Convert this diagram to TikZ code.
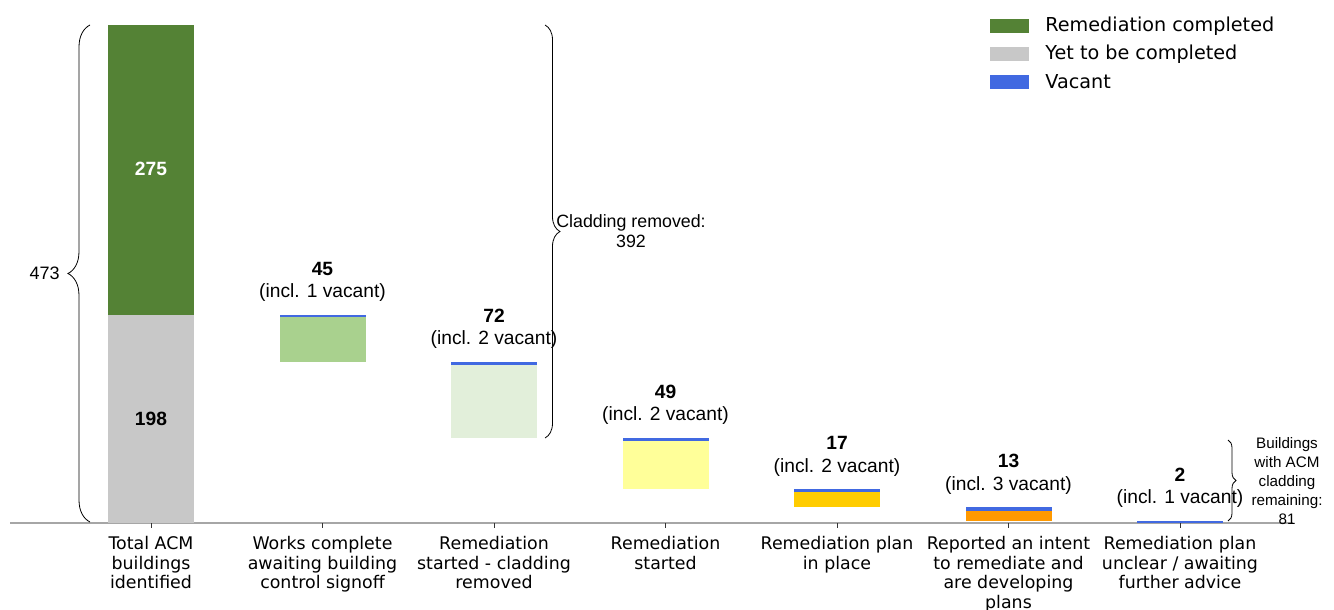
\documentclass[tikz,border=0pt]{standalone}
\usepackage{fontspec}
\setmainfont{Liberation Sans}
\newfontfamily\dejavu{DejaVu Sans}
\usetikzlibrary{decorations.pathreplacing}

\definecolor{accgreen}{HTML}{548235}
\definecolor{accgray}{HTML}{C8C8C8}
\definecolor{accblue}{HTML}{4169E1}
\definecolor{accA}{HTML}{A9D18E}
\definecolor{accB}{HTML}{E2EFDA}
\definecolor{accC}{HTML}{FFFF99}
\definecolor{accD}{HTML}{FFCC00}
\definecolor{accE}{HTML}{FF9900}
\definecolor{axgray}{HTML}{A6A6A6}

\begin{document}
\begin{tikzpicture}[x=0.5pt, y=-0.5pt]
    \tikzstyle{brc}=[thin, decorate]
    \tikzstyle{numlbl}=[font=\fontsize{9.6}{11}\selectfont\bfseries]
    \tikzstyle{inclbl}=[font=\fontsize{9.6}{11}\selectfont]
    \tikzstyle{axlbl}=[font=\dejavu\fontsize{8.7}{9.75}\selectfont, align=center, anchor=north, inner sep=0pt]
    \tikzstyle{leg}=[font=\dejavu\fontsize{9.6}{11}\selectfont, anchor=west, inner sep=0pt]

    \useasboundingbox (0,0) rectangle (1334,610);

    % axis
    \draw[axgray, line width=1pt] (10,523) -- (1293,523);
    \foreach \x/\txt [count=\i] in {151/{Total ACM\\buildings\\identified},
            322.5/{Works complete\\awaiting building\\control signoff},
            494/{Remediation\\started - cladding\\removed},
            665.5/{Remediation\\started},
            837/{Remediation plan\\in place},
            1008.5/{Reported an intent\\to remediate and\\are developing\\plans},
            1180/{Remediation plan\\unclear / awaiting\\further advice}} {
        \draw[black!80, thin] (\x,523) -- (\x,528);
        \node[axlbl] (cat\i) at (\x,536) {\txt};
    }

    % bars, in buildings
    \begin{scope}[shift={(0,523)}, y=0.52645pt]
        \fill[accgreen] (108,198) rectangle (194,473);
        \fill[accgray] (108,0) rectangle (194,198);
        \node[numlbl, text=white] (done) at (151,336.5) {275};
        \node[numlbl] (todo) at (151,99) {198};

        \foreach \x/\lo/\hi/\vac/\col/\tot in {322.5/153/198/1/accA/45, 494/81/153/2/accB/72,
                665.5/32/81/2/accC/49, 837/15/32/2/accD/17, 1008.5/2/15/3/accE/13, 1180/0/2/1/white/2} {
            \fill[\col] (\x - 43, \lo) rectangle (\x + 43, \hi);
            \fill[accblue] (\x - 43, \hi - \vac - 1) rectangle (\x + 43, \hi);
            \node[numlbl, yshift=23pt] (val\tot) at (\x, \hi) {\tot};
            \node[inclbl, yshift=11pt] (inc\tot) at (\x, \hi) {(incl. \vac\ vacant)};
        }
    \end{scope}

    % braces
    \coordinate (lbrA) at (90,522);
    \coordinate (lbrB) at (90,25);
    \draw[brc, decoration={brace, amplitude=11pt}] (lbrA) -- (lbrB);
    \node[anchor=east, font=\fontsize{9}{10}\selectfont, inner sep=0pt] (all) at (60,273) {473};

    \coordinate (mbrA) at (545,25);
    \coordinate (mbrB) at (545,438);
    \draw[brc, decoration={brace, amplitude=7.5pt}] (mbrA) -- (mbrB);
    \node[align=center, font=\fontsize{8.9}{10}\selectfont, inner sep=0pt] (removed) at (631,231) {Cladding removed:\\392};

    \coordinate (rbrA) at (1228,440);
    \coordinate (rbrB) at (1228,521);
    \draw[brc, decoration={brace, amplitude=4pt}] (rbrA) -- (rbrB);
    \node[align=center, font=\fontsize{7.6}{9.4}\selectfont, inner sep=0pt] (remaining) at (1287,481) {Buildings\\with ACM\\cladding\\remaining:\\81};

    % legend
    \foreach \y/\col/\txt in {26/accgreen/Remediation completed, 54/accgray/Yet to be completed, 82/accblue/Vacant} {
        \fill[\col] (990,\y - 7) rectangle (1029,\y + 7);
        \node[leg] (key\y) at (1045,\y) {\txt};
    }
\end{tikzpicture}
\end{document}
